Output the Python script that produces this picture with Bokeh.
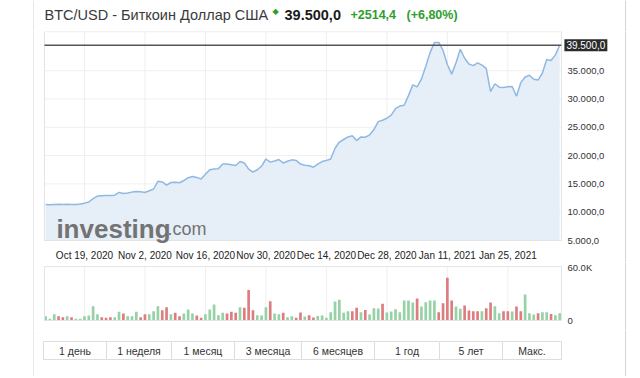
from bokeh.plotting import figure
from bokeh.layouts import column
from bokeh.models import Range1d, ColumnDataSource
from bokeh.embed import file_html
from bokeh.resources import INLINE
from bokeh.core.properties import value

# ---------------- data ----------------
title_text = "BTC/USD - Биткоин Доллар США"
last_price_text = "39.500,0"
change_text = "+2514,4"
change_pct_text = "(+6,80%)"

# daily closes, 10 Oct 2020 .. 6 Feb 2021 (day index 0..119)
price = [11360, 11330, 11380, 11400, 11370, 11390, 11340, 11360, 11450, 11600,
         11800, 12400, 12850, 12900, 12950, 12950, 13000, 13500, 13300, 13400,
         13550, 13650, 13600, 13480, 13800, 14100, 15450, 15350, 14800, 15250,
         15300, 15200, 15600, 16100, 16300, 16150, 15850, 16700, 17500, 17650,
         17700, 18500, 18500, 18400, 18250, 18950, 18700, 17600, 17100, 17500,
         18150, 19400, 18850, 19050, 19300, 18700, 19000, 19250, 19150, 18500,
         18300, 18200, 17950, 18500, 18950, 19150, 19400, 21300, 22400, 22850,
         23300, 23500, 22650, 23300, 23250, 23650, 24600, 26000, 26250, 26600,
         27150, 28300, 28750, 28900, 30600, 32500, 32150, 33500, 35800, 38200,
         40000, 40000, 38600, 36100, 34400, 36400, 38800, 37200, 36200, 35900,
         36400, 36000, 35400, 31300, 32700, 32100, 32050, 32150, 32200, 30500,
         32900, 33900, 34200, 33500, 33350, 34600, 37000, 36800, 37800, 39500]

# daily volume, thousands
volume_k = [4.9, 2.0, 7.2, 4.9, 3.8, 4.9, 3.8, 2.0, 2.0, 4.9,
            5.7, 16.2, 7.2, 3.8, 3.0, 3.8, 3.8, 9.8, 7.9, 4.9,
            4.9, 9.8, 3.8, 7.2, 7.2, 10.6, 16.2, 11.7, 15.1, 7.2,
            8.7, 4.9, 7.9, 12.5, 7.9, 5.7, 3.0, 7.2, 12.5, 18.1,
            6.0, 8.7, 7.9, 9.8, 8.7, 15.1, 14.3, 34.4, 11.7, 6.0,
            5.7, 15.1, 21.9, 7.9, 7.2, 8.7, 3.8, 4.9, 3.0, 9.0,
            4.5, 6.0, 3.5, 5.0, 5.7, 3.0, 9.4, 21.5, 23.4, 8.7,
            10.6, 10.6, 14.3, 9.4, 12.0, 6.8, 14.0, 13.6, 18.9, 9.0,
            10.2, 12.8, 9.4, 22.7, 22.7, 20.4, 24.9, 15.9, 20.8, 22.7,
            22.7, 9.4, 19.6, 48.3, 22.7, 15.9, 13.2, 17.0, 11.3, 10.6,
            10.6, 10.6, 14.0, 20.4, 16.2, 8.3, 10.6, 10.6, 10.2, 15.9,
            10.6, 29.5, 8.3, 6.8, 8.3, 9.4, 9.4, 7.5, 6.0, 8.3]

# G = up day, R = down day
volume_dir = list("GGGRRGRGGG" "GGGRRRGGRG" "GGRRGGGRRG" "RRGGGRRGGG"
                  "GGRRRGRRRG" "GGRGGRGGRR" "GRRGGGGGGG" "GRRGRGGGRG"
                  "GGGGGGRGGG" "GRRRRGGRRR" "RGRRGGRRGR" "RGGGRGGRGG")

x_tick_days = [9, 23, 37, 51, 65, 79, 93, 107]
x_tick_labels = ["Oct 19, 2020", "Nov 2, 2020", "Nov 16, 2020", "Nov 30, 2020",
                 "Dec 14, 2020", "Dec 28, 2020", "Jan 11, 2021", "Jan 25, 2021"]
y_ticks = [5000, 10000, 15000, 20000, 25000, 30000, 35000]
y_tick_labels = ["5.000,0", "10.000,0", "15.000,0", "20.000,0",
                 "25.000,0", "30.000,0", "35.000,0"]
vol_ticks = [0, 60000]
vol_tick_labels = ["0", "60.0K"]
buttons = ["1 день", "1 неделя", "1 месяц", "3 месяца", "6 месяцев", "1 год", "5 лет", "Макс."]

# ---------------- layout constants (pixels) ----------------
FONT = "Liberation Sans"
W = 594              # panel width (outer grey lines at both edges)
X0 = 12.1            # canvas x of first day
XS = 4.32            # pixels per day
LINE = "#8fb9e3"
FILL = "#e4edf6"
GRID = "#efefef"
FRAME = "#e3e3e3"
GREEN_BAR = "#97d1a6"
RED_BAR = "#dc7d80"
GREEN_TXT = "#2e9e2e"
PANEL_LINE = "#d4d4d4"
EDGE_L, EDGE_R = 0, 592   # canvas columns of the outer panel lines

days = list(range(len(price)))
XL, XR = -0.25, 119.4          # plot-area extent in days
xr = Range1d(-X0 / XS, (W - X0) / XS)


def cx(c):
    """canvas pixel -> day units"""
    return (c - X0) / XS


def base_fig(height, x_range, y_range):
    f = figure(width=W, height=height, x_range=x_range, y_range=y_range,
               x_axis_type=None, y_axis_type=None, output_backend="svg",
               toolbar_location=None, min_border=0)
    f.grid.visible = False
    f.outline_line_color = None
    return f


def panel_edges(f, conv, y0, y1):
    # 1-px filled strips for the outer panel border
    f.quad(left=[conv(EDGE_L - 0.5), conv(EDGE_R - 0.5)],
           right=[conv(EDGE_L + 0.5), conv(EDGE_R + 0.5)],
           bottom=[y0, y0], top=[y1, y1], fill_color=PANEL_LINE, line_color=None)


def ident(c):
    return c


# ---------------- header ----------------
HH = 31
h = base_fig(HH, Range1d(0, W), Range1d(0, HH))
panel_edges(h, ident, 0, HH)
h.text(x=[11], y=[HH - 14], text=[title_text], text_font=value(FONT), text_font_size="14.5px",
       text_color="#3a3a3a", text_baseline="middle")
h.text(x=[239], y=[HH - 11], text=["◆"], text_font=value("DejaVu Sans"), text_font_size="8px",
       text_color=GREEN_TXT, text_baseline="middle")
h.text(x=[251], y=[HH - 14], text=[last_price_text], text_font=value(FONT), text_font_size="14.5px",
       text_font_style="bold", text_color="#1a1a1a", text_baseline="middle")
h.text(x=[317], y=[HH - 14], text=[change_text], text_font=value(FONT), text_font_size="12.5px",
       text_font_style="bold", text_color=GREEN_TXT, text_baseline="middle")
h.text(x=[373], y=[HH - 14], text=[change_pct_text], text_font=value(FONT), text_font_size="12.5px",
       text_font_style="bold", text_color=GREEN_TXT, text_baseline="middle")

# ---------------- price chart ----------------
PH = 231
PPX = 176.7                     # price units per pixel
YB, YT = 5000, 41900            # plot-area extent in price units
p = base_fig(PH, xr, Range1d(YB - 22 * PPX, YB + 209 * PPX))
panel_edges(p, cx, p.y_range.start, p.y_range.end)

p.segment(x0=x_tick_days, y0=[YB] * len(x_tick_days), x1=x_tick_days, y1=[YT] * len(x_tick_days),
          line_color=GRID, line_width=1)
p.segment(x0=[XL] * len(y_ticks), y0=y_ticks, x1=[XR] * len(y_ticks), y1=y_ticks,
          line_color=GRID, line_width=1)

src = ColumnDataSource(dict(x=days, y=price))
p.varea(x="x", y1=YB, y2="y", source=src, fill_color=FILL, fill_alpha=0.92)
p.line(x="x", y="y", source=src, line_color=LINE, line_width=1.5)
p.quad(left=[XL], right=[XR], bottom=[YB], top=[YT], fill_color=None, line_color=FRAME)

p.text(x=[2.5], y=[6950], text=["investing"], text_font=value(FONT), text_font_size="26px",
       text_font_style="bold", text_color="#737373", text_baseline="alphabetic")
p.text(x=[28.2], y=[6950], text=[".com"], text_font=value(FONT), text_font_size="18px",
       text_color="#737373", text_baseline="alphabetic")

# current price line and its tag
p.segment(x0=[XL], y0=[price[-1]], x1=[XR], y1=[price[-1]], line_color="#555555", line_width=1.5)
p.text(x=[XR], y=[price[-1]], text=[last_price_text], x_offset=3,
       text_font=value(FONT), text_font_size="10px", text_color="white",
       text_baseline="middle", text_align="left",
       background_fill_color="#2b2b2b", padding=2)

# axis labels
p.text(x=[XR] * len(y_ticks), y=y_ticks, text=y_tick_labels, x_offset=6,
       text_font=value(FONT), text_font_size="9.5px", text_color="#333333",
       text_baseline="middle", text_align="left")
p.text(x=x_tick_days, y=[YB] * len(x_tick_days), text=x_tick_labels, y_offset=15,
       text_font=value(FONT), text_font_size="10px", text_color="#222222",
       text_baseline="middle", text_align="center")

# ---------------- volume chart ----------------
VH = 68
VPX = 60000 / 53.0              # volume units per pixel
VT = 61000
v = base_fig(VH, xr, Range1d(-10 * VPX, 58 * VPX))
panel_edges(v, cx, v.y_range.start, v.y_range.end)
v.segment(x0=x_tick_days, y0=[0] * len(x_tick_days), x1=x_tick_days, y1=[VT] * len(x_tick_days),
          line_color=GRID, line_width=1)
vsrc = ColumnDataSource(dict(x=days, top=[k * 1000 for k in volume_k],
                             color=[GREEN_BAR if d == "G" else RED_BAR for d in volume_dir]))
v.vbar(x="x", top="top", bottom=0, width=0.62, source=vsrc, fill_color="color", line_color=None)
v.quad(left=[XL], right=[XR], bottom=[0], top=[VT], fill_color=None, line_color=FRAME)
v.text(x=[XR] * len(vol_ticks), y=vol_ticks, text=vol_tick_labels, x_offset=6,
       text_font=value(FONT), text_font_size="9.5px", text_color="#333333",
       text_baseline="middle", text_align="left")

# ---------------- range buttons ----------------
BH = 46
b = base_fig(BH, Range1d(0, W), Range1d(0, BH))
panel_edges(b, ident, 0, BH)
edges = [10, 73, 138, 201, 268, 341, 406, 469, 528]
b.quad(left=edges[:-1], right=edges[1:], bottom=BH - 29, top=BH - 11, fill_color="white",
       line_color="#dddddd", line_width=1)
b.text(x=[(edges[i] + edges[i + 1]) / 2 for i in range(len(buttons))], y=[BH - 20] * len(buttons),
       text=buttons, text_font=value(FONT), text_font_size="10.5px", text_color="#333333",
       text_align="center", text_baseline="middle")

layout = column(h, p, v, b, spacing=0, margin=(0, 0, 0, 33))

open("out.html", "w").write(file_html(layout, INLINE))
